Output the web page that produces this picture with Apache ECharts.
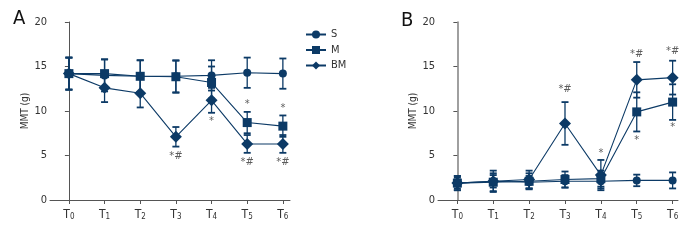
<!DOCTYPE html>
<html><head><meta charset="utf-8">
<script src="https://cdn.jsdelivr.net/npm/echarts@6/dist/echarts.min.js"></script>
<style>html,body{margin:0;padding:0;background:#fff}#c{width:696px;height:240px}</style>
</head><body><div id="c"></div>
<script>
// ---- data ----
var tickIdx = [0, 1, 2, 3, 4, 5, 6];
var tickSub = ['0', '1', '2', '3', '4', '5', '6'];
var yTicks = [0, 5, 10, 15, 20];
var seriesNames = ['S', 'M', 'BM'];

var A_S = [14.2, 14.0, 13.9, 13.9, 14.0, 14.3, 14.2];
var A_S_err = [1.8, 1.8, 1.8, 1.8, 1.7, 1.7, 1.7];
var A_M = [14.2, 14.2, 13.9, 13.85, 13.2, 8.7, 8.3];
var A_M_err = [1.8, 1.6, 1.8, 1.8, 1.8, 1.2, 1.2];
var A_BM = [14.2, 12.6, 12.0, 7.1, 11.2, 6.3, 6.3];
var A_BM_err = [1.8, 1.6, 1.6, 1.1, 1.4, 1.0, 1.0];
var A_annot = [[3, 4.9, '*#'], [4, 8.9, '*'], [5, 10.8, '*'], [5, 4.2, '*#'], [6, 10.3, '*'], [6, 4.2, '*#']];

var B_S = [1.9, 2.1, 2.0, 2.1, 2.1, 2.2, 2.2];
var B_S_err = [0.6, 0.7, 0.7, 0.7, 0.8, 0.65, 0.9];
var B_M = [1.9, 2.0, 2.1, 2.3, 2.4, 9.9, 11.0];
var B_M_err = [0.8, 1.0, 0.9, 0.9, 0.9, 2.2, 2.0];
var B_BM = [1.9, 2.1, 2.3, 8.6, 2.8, 13.5, 13.75];
var B_BM_err = [0.8, 1.2, 1.0, 2.4, 1.7, 2.0, 1.9];
var B_annot = [[3, 12.5, '*#'], [4, 5.3, '*'], [5, 16.4, '*#'], [5, 6.7, '*'], [6, 16.7, '*#'], [6, 8.2, '*']];

// ---- styling ----
var NAVY = '#0c3a66';
var FONT = '"Liberation Sans Narrow", "DejaVu Sans Condensed", "Roboto", sans-serif';
var symbols = { S: ['circle', 8], M: ['rect', 9], BM: ['diamond', 12] };

function pairs(vals) { return vals.map(function (v, i) { return [tickIdx[i], v]; }); }
function errData(vals, errs) { return vals.map(function (v, i) { return [tickIdx[i], v - errs[i], v + errs[i]]; }); }

function errSeries(vals, errs, g) {
  return {
    type: 'custom', xAxisIndex: g, yAxisIndex: g, silent: true, z: 1,
    data: errData(vals, errs),
    renderItem: function (params, api) {
      var lo = api.coord([api.value(0), api.value(1)]);
      var hi = api.coord([api.value(0), api.value(2)]);
      var w = 3.5;
      var st = { stroke: NAVY, lineWidth: 1.3 };
      return { type: 'group', children: [
        { type: 'line', shape: { x1: lo[0], y1: lo[1], x2: hi[0], y2: hi[1] }, style: st },
        { type: 'line', shape: { x1: lo[0] - w, y1: lo[1], x2: lo[0] + w, y2: lo[1] }, style: { stroke: NAVY, lineWidth: 1.8 } },
        { type: 'line', shape: { x1: hi[0] - w, y1: hi[1], x2: hi[0] + w, y2: hi[1] }, style: { stroke: NAVY, lineWidth: 1.8 } }
      ] };
    }
  };
}
function lineSeries(name, vals, g, z) {
  return {
    type: 'line', name: name, xAxisIndex: g, yAxisIndex: g, z: z,
    data: pairs(vals), symbol: symbols[name][0], symbolSize: symbols[name][1],
    itemStyle: { color: NAVY }, lineStyle: { color: NAVY, width: 1.1 }, animation: false
  };
}
function annotSeries(list, g) {
  return {
    type: 'scatter', xAxisIndex: g, yAxisIndex: g, symbolSize: 1, silent: true,
    itemStyle: { color: 'rgba(0,0,0,0)' },
    data: list.map(function (a) { return { value: [a[0], a[1]], label: { formatter: a[2] } }; }),
    label: { show: true, position: 'inside', color: '#333', fontSize: 11, fontFamily: FONT }
  };
}
function xAxis(g, min, max, lineColor) {
  return {
    type: 'value', gridIndex: g, min: min, max: max,
    splitLine: { show: false },
    axisLine: { show: true, lineStyle: { color: lineColor, width: 1 } },
    axisTick: { show: true, customValues: tickIdx, length: 4, lineStyle: { color: '#555' } },
    axisLabel: {
      customValues: tickIdx, margin: 8, color: '#333', fontFamily: FONT, fontSize: 12,
      formatter: function (v) { return 'T{s|' + tickSub[Math.round(v)] + '}'; },
      rich: { s: { fontSize: 8, fontFamily: FONT, color: '#333', padding: [5, 0, 0, 0] } }
    }
  };
}
function yAxis(g, lineColor, lw) {
  return {
    type: 'value', gridIndex: g, min: yTicks[0], max: yTicks[yTicks.length - 1], interval: 5,
    name: 'MMT (g)', nameLocation: 'middle', nameGap: 20,
    nameTextStyle: { fontSize: 10, color: '#333', fontFamily: FONT },
    splitLine: { show: false },
    axisLine: { show: true, lineStyle: { color: lineColor, width: lw } },
    axisTick: { show: true, length: 4, lineStyle: { color: '#555' } },
    axisLabel: { margin: 3, color: '#333', fontSize: 11, fontFamily: FONT }
  };
}

var chart = echarts.init(document.getElementById('c'), null, { renderer: 'canvas' });
chart.setOption({
  animation: false,
  backgroundColor: '#fff',
  textStyle: { fontFamily: FONT },
  title: [
    { text: 'A', left: 8, top: 4, textStyle: { fontSize: 20, fontWeight: 'normal', color: '#111', fontFamily: FONT } },
    { text: 'B', left: 396, top: 6, textStyle: { fontSize: 20, fontWeight: 'normal', color: '#111', fontFamily: FONT } }
  ],
  legend: {
    orient: 'vertical', left: 305, top: 29, itemWidth: 20, itemHeight: 10, itemGap: 4.5, padding: 0,
    data: seriesNames, textStyle: { fontSize: 11, color: '#333', fontFamily: FONT }
  },
  grid: [
    { left: 50, top: 22, width: 240, height: 178 },
    { left: 438, top: 22, width: 240, height: 178 }
  ],
  xAxis: [xAxis(0, -0.53, 6.2, '#555'), xAxis(1, -0.54, 6.15, '#555')],
  yAxis: [yAxis(0, '#555', 1), yAxis(1, '#888', 1.6)],
  series: [
    errSeries(A_S, A_S_err, 0), errSeries(A_M, A_M_err, 0), errSeries(A_BM, A_BM_err, 0),
    lineSeries('BM', A_BM, 0, 2), lineSeries('S', A_S, 0, 3), lineSeries('M', A_M, 0, 4),
    errSeries(B_S, B_S_err, 1), errSeries(B_M, B_M_err, 1), errSeries(B_BM, B_BM_err, 1),
    lineSeries('BM', B_BM, 1, 2), lineSeries('M', B_M, 1, 3), lineSeries('S', B_S, 1, 4),
    annotSeries(A_annot, 0), annotSeries(B_annot, 1)
  ]
});
</script></body></html>
